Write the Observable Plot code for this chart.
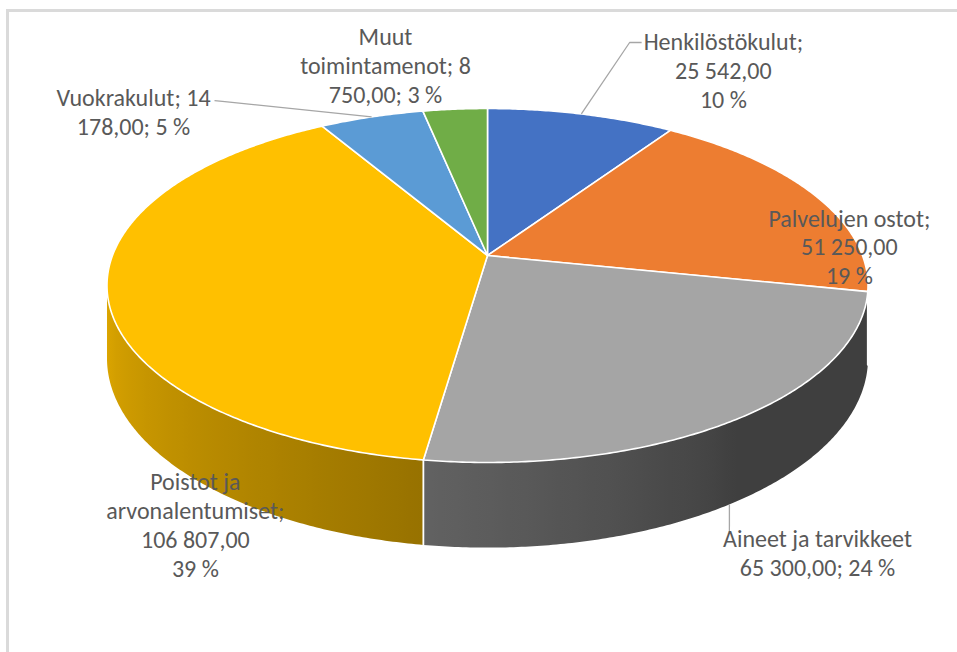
<!DOCTYPE html>
<html><head><meta charset="utf-8">
<script src="https://cdn.jsdelivr.net/npm/d3@7"></script>
<script src="https://cdn.jsdelivr.net/npm/@observablehq/plot@0.6"></script>
<style>
html,body{margin:0;padding:0;background:#fff;}
#wrap{position:relative;width:957px;height:652px;overflow:hidden;background:#fff;}
#wrap svg{display:block;}
#frame{position:absolute;left:6px;top:9px;right:-10px;bottom:-10px;border-left:3px solid #dadada;border-top:3px solid #dadada;pointer-events:none;}
</style></head><body>
<div id="wrap"><div id="frame"></div></div>
<script>
// ---- data ----
const categories = ["Henkilöstökulut", "Palvelujen ostot", "Aineet ja tarvikkeet", "Poistot ja arvonalentumiset", "Vuokrakulut", "Muut toimintamenot"];
const values = [25542, 51250, 65300, 106807, 14178, 8750];
const labelTexts = [
  "Henkilöstökulut;\n25 542,00\n10 %",
  "Palvelujen ostot;\n51 250,00\n19 %",
  "Aineet ja tarvikkeet\n65 300,00; 24 %",
  "Poistot ja\narvonalentumiset;\n106 807,00\n39 %",
  "Vuokrakulut; 14\n178,00; 5 %",
  "Muut\ntoimintamenot; 8\n750,00; 3 %"
];
const sliceColors = ["#4472C4", "#ED7D31", "#A5A5A5", "#FFC000", "#5B9BD5", "#70AD47"];

// ---- layout (chart units, 1 unit = pie radius) ----
const PX = 375;                 // pixels per unit
const CX = 487, CY = 255;       // pie apex in the picture
const P = 0.1695, TILT = 0.4584, THICK = 0.1885;
const labelPos = [[0.629, 0.495], [0.965, 0.025], [0.88, -0.792], [-0.779, -0.717], [-0.944, 0.384], [-0.272, 0.508]];
const leaders = [
  {i: 0, rim: "top", pts: [[0.379, 0.568], [0.411, 0.568]]},
  {i: 4, rim: "top", pts: [[-0.707, 0.411], [-0.728, 0.413]]},
  {i: 2, rim: "bottom", vertical: true, pts: [[0.645, -0.739]]}
];

// ---- geometry ----
const rad = d => d * Math.PI / 180;
function proj(theta, z) {
  const t = rad(theta), c = Math.cos(t), s = 1 / (1 + P * c);
  return [Math.sin(t) * s, (c * TILT - z) * s];
}
const total = d3.sum(values);
let cum = 0;
const slices = values.map((v, i) => {
  const a0 = cum / total * 360; cum += v;
  const a1 = cum / total * 360;
  return {i, a0, a1, mid: (a0 + a1) / 2};
});
const thetaS = Math.acos(-P) * 180 / Math.PI;   // silhouette angle
const frontLo = thetaS, frontHi = 360 - thetaS;

function shadeFactor(theta) {
  const t = Math.max(0, Math.min(1, (theta - 145) / 115));
  return 0.38 + 0.49 * Math.pow(t, 0.85);
}
function shade(color, f) {
  const c = d3.rgb(color);
  return d3.rgb(c.r * f, c.g * f, c.b * f).formatHex();
}

// top face polygons
const topPts = [];
for (const s of slices) {
  topPts.push({id: s.i, p: [0, 0], fill: sliceColors[s.i]});
  const n = Math.max(2, Math.ceil((s.a1 - s.a0) / 0.5));
  for (let k = 0; k <= n; k++) {
    const th = s.a0 + (s.a1 - s.a0) * k / n;
    topPts.push({id: s.i, p: proj(th, 0), fill: sliceColors[s.i]});
  }
  topPts.push({id: s.i, p: [0, 0], fill: sliceColors[s.i]});
}

// wall polygons (one per visible slice), gradient-filled
const wallPts = [];
const walls = [];
for (const s of slices) {
  const lo = Math.max(s.a0, frontLo), hi = Math.min(s.a1, frontHi);
  if (lo >= hi) continue;
  const n = Math.max(2, Math.ceil((hi - lo) / 0.5));
  const fill = `url(#wall${s.i})`;
  const top = [], bot = [];
  for (let k = 0; k <= n; k++) {
    const th = lo + (hi - lo) * k / n;
    top.push(proj(th, 0)); bot.push(proj(th, THICK));
  }
  for (const p of top) wallPts.push({id: s.i, p, fill});
  for (const p of bot.reverse()) wallPts.push({id: s.i, p, fill});
  walls.push({s, lo, hi});
}

// wall boundary lines between slices
const wallLines = [];
for (const s of slices) {
  if (s.a0 > frontLo && s.a0 < frontHi) {
    wallLines.push({id: s.i, p: proj(s.a0, 0)});
    wallLines.push({id: s.i, p: proj(s.a0, THICK)});
  }
}

// leader lines
const leaderPts = [];
leaders.forEach((L, j) => {
  const s = slices[L.i];
  const z = L.rim === "top" ? 0 : THICK;
  let start = proj(s.mid, z);
  if (L.vertical) {
    const target = L.pts[0][0];
    let best = s.mid, bd = Infinity;
    for (let th = s.a0; th <= s.a1; th += 0.05) {
      const d = Math.abs(proj(th, z)[0] - target);
      if (d < bd) { bd = d; best = th; }
    }
    start = proj(best, z);
  }
  leaderPts.push({id: j, p: start});
  for (const q of L.pts) leaderPts.push({id: j, p: q});
});

const labels = labelTexts.map((t, i) => ({t, x: labelPos[i][0], y: labelPos[i][1]}));

const chart = Plot.plot({
  width: 957, height: 652, margin: 0,
  x: {domain: [-CX / PX, (957 - CX) / PX], axis: null},
  y: {domain: [(CY - 652) / PX, CY / PX], axis: null},
  color: {type: "identity"},
  marks: [
    Plot.line(wallPts, {x: d => d.p[0], y: d => d.p[1], z: "id", fill: "fill", stroke: "none"}),
    Plot.line(wallLines, {x: d => d.p[0], y: d => d.p[1], z: "id", stroke: "white", strokeWidth: 1.8}),
    Plot.line(topPts, {x: d => d.p[0], y: d => d.p[1], z: "id", fill: "fill", stroke: "white", strokeWidth: 1.6}),
    Plot.line(leaderPts, {x: d => d.p[0], y: d => d.p[1], z: "id", stroke: "#a6a6a6", strokeWidth: 1.3, strokeLinecap: "butt"}),
    Plot.text(labels, {x: "x", y: "y", text: "t", fill: "#595959", fontSize: 24, lineHeight: 1.2, textAnchor: "middle", fontFamily: "Carlito, Lato, 'Liberation Sans', sans-serif"})
  ]
});

// gradients for walls, positioned with the chart's x scale
const xs = chart.scale("x");
const defs = d3.select(chart).insert("defs", ":first-child");
for (const w of walls) {
  const xs0 = xs.apply(proj(w.lo, 0)[0]), xs1 = xs.apply(proj(w.hi, 0)[0]);
  const xmin = Math.min(xs0, xs1), xmax = Math.max(xs0, xs1);
  const g = defs.append("linearGradient").attr("id", `wall${w.s.i}`)
    .attr("gradientUnits", "userSpaceOnUse")
    .attr("x1", xmin).attr("x2", xmax).attr("y1", 0).attr("y2", 0);
  const stops = [];
  const n = 40;
  for (let k = 0; k <= n; k++) {
    const th = w.lo + (w.hi - w.lo) * k / n;
    const px = xs.apply(proj(th, 0)[0]);
    stops.push({o: (px - xmin) / (xmax - xmin), c: shade(sliceColors[w.s.i], shadeFactor(th))});
  }
  stops.sort((a, b) => a.o - b.o);
  for (const st of stops) g.append("stop").attr("offset", Math.max(0, Math.min(1, st.o))).attr("stop-color", st.c);
}
document.getElementById("wrap").prepend(chart);
</script>
</body></html>
